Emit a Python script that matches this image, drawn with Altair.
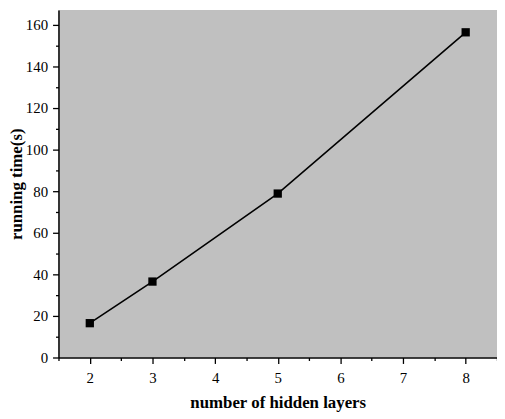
import altair as alt
import pandas as pd

layers = [2, 3, 5, 8]
running_time = [16.5, 36.5, 78.8, 156.3]

x_ticks = [1.5, 2, 2.5, 3, 3.5, 4, 4.5, 5, 5.5, 6, 6.5, 7, 7.5, 8, 8.5]
y_ticks = [0, 10, 20, 30, 40, 50, 60, 70, 80, 90, 100, 110, 120, 130, 140, 150, 160]

df = pd.DataFrame({"layers": layers, "time": running_time})

font = "Liberation Serif"

x_enc = alt.X(
    "layers:Q",
    scale=alt.Scale(domain=[1.5, 8.5], nice=False, zero=False),
    axis=alt.Axis(
        title="number of hidden layers",
        values=x_ticks,
        labelExpr="(datum.value % 1 === 0 && datum.value >= 2 && datum.value <= 8) ? ('' + datum.value) : ''",
        tickSize={"condition": {"test": "datum.value % 1 !== 0", "value": 3}, "value": 6},
        grid=False,
        labelPadding=7,
        titlePadding=10,
        labelFont=font,
        titleFont=font,
    ),
)
y_enc = alt.Y(
    "time:Q",
    scale=alt.Scale(domain=[0, 167], nice=False),
    axis=alt.Axis(
        title="running time(s)",
        values=y_ticks,
        labelExpr="datum.value % 20 === 0 ? ('' + datum.value) : ''",
        tickSize={"condition": {"test": "datum.value % 20 !== 0", "value": 3}, "value": 6},
        grid=False,
        labelPadding=5,
        titlePadding=0,
        labelFont=font,
        titleFont=font,
    ),
)

base = alt.Chart(df).encode(x=x_enc, y=y_enc)
line = base.mark_line(color="black", strokeWidth=1.6)
pts = base.mark_point(shape="square", filled=True, color="black", size=70, opacity=1)

chart = (
    alt.layer(line, pts)
    .properties(
        width=443,
        height=351,
        autosize=alt.AutoSizeParams(type="none"),
        padding={"left": 51, "top": 0, "right": 0, "bottom": 55},
    )
    .configure_view(fill="#c0c0c0", stroke=None)
    .configure_axis(
        domainColor="black",
        domainWidth=1.5,
        tickColor="black",
        tickWidth=1.3,
        labelFont=font,
        labelFontSize=15,
        labelColor="black",
        titleFont=font,
        titleFontSize=17,
        titleFontWeight="bold",
        titleColor="black",
        labelFlush=False,
        labelOverlap=False,
    )
)

chart.save("out.html", embed_options={"renderer": "svg", "actions": False})
